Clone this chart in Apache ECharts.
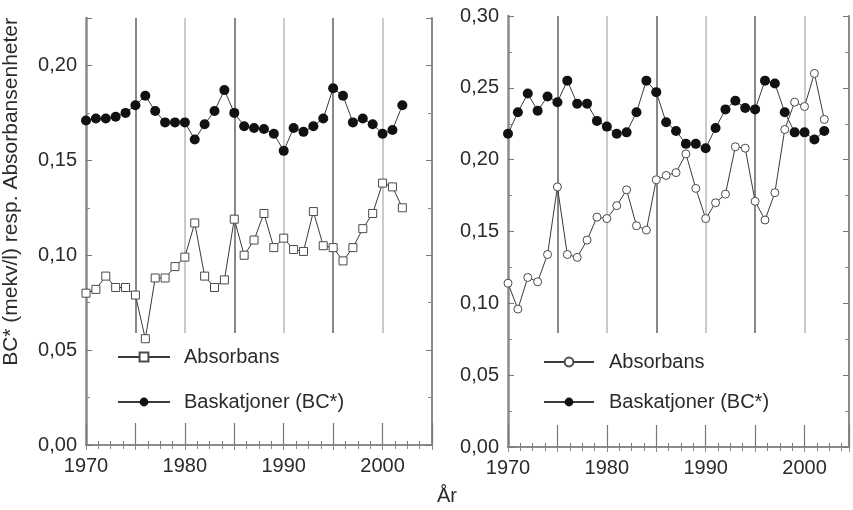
<!DOCTYPE html>
<html>
<head>
<meta charset="utf-8">
<script src="https://cdn.jsdelivr.net/npm/echarts@6/dist/echarts.min.js"></script>
<style>
  html, body { margin: 0; padding: 0; background: #fff; }
  #chart { width: 853px; height: 510px; }
</style>
</head>
<body>
<div id="chart"></div>
<script>
// --- data -------------------------------------------------------------------
const years = [1970, 1971, 1972, 1973, 1974, 1975, 1976, 1977, 1978, 1979,
  1980, 1981, 1982, 1983, 1984, 1985, 1986, 1987, 1988, 1989,
  1990, 1991, 1992, 1993, 1994, 1995, 1996, 1997, 1998, 1999,
  2000, 2001, 2002];

// left panel
const leftAbsorbans = [0.080, 0.082, 0.089, 0.083, 0.083, 0.079, 0.056, 0.088, 0.088, 0.094,
  0.099, 0.117, 0.089, 0.083, 0.087, 0.119, 0.100, 0.108, 0.122, 0.104,
  0.109, 0.103, 0.102, 0.123, 0.105, 0.104, 0.097, 0.104, 0.114, 0.122,
  0.138, 0.136, 0.125];
const leftBC = [0.171, 0.172, 0.172, 0.173, 0.175, 0.179, 0.184, 0.176, 0.170, 0.170,
  0.170, 0.161, 0.169, 0.176, 0.187, 0.175, 0.168, 0.167, 0.1665, 0.164,
  0.155, 0.167, 0.165, 0.168, 0.172, 0.188, 0.184, 0.170, 0.172, 0.169,
  0.164, 0.166, 0.179];

// right panel
const rightAbsorbans = [0.114, 0.096, 0.118, 0.115, 0.134, 0.181, 0.134, 0.132, 0.144, 0.160,
  0.159, 0.168, 0.179, 0.154, 0.151, 0.186, 0.189, 0.191, 0.204, 0.180,
  0.159, 0.170, 0.176, 0.209, 0.208, 0.171, 0.158, 0.177, 0.221, 0.240,
  0.237, 0.260, 0.228];
const rightBC = [0.218, 0.233, 0.246, 0.234, 0.244, 0.240, 0.255, 0.239, 0.239, 0.227,
  0.223, 0.218, 0.219, 0.233, 0.255, 0.247, 0.226, 0.220, 0.211, 0.211,
  0.208, 0.222, 0.235, 0.241, 0.236, 0.235, 0.255, 0.253, 0.233, 0.219,
  0.219, 0.214, 0.220];

const yearTicks = [1970, 1980, 1990, 2000];
const yTicks = [0, 0.05, 0.10, 0.15, 0.20, 0.25, 0.30];

// --- style -------------------------------------------------------------------
const FONT = "Liberation Sans";
const TEXT = "#2b2b2b";
const AXIS = "#8a8a8a";

const fmtYear = (v) => (yearTicks.includes(v) ? String(v) : "");
const fmtY = (v) => {
  const hit = yTicks.find((t) => Math.abs(t - v) < 1e-6);
  return hit === undefined ? "" : hit.toFixed(2).replace(".", ",");
};
const pairs = (vals) => vals.map((v, i) => [years[i], v]);

// one panel = main grid (frame, ticks, labels, data) + a shorter grid for the vertical lines
function panelAxes(g, gLines, xMax, yMax) {
  const x = [
    { gridIndex: g, type: "value", min: 1970, max: xMax, interval: 5, position: "bottom",
      axisLine: { lineStyle: { color: AXIS, width: 2 } },
      axisTick: { inside: true, length: 22, lineStyle: { color: "#777", width: 1.2 } },
      minorTick: { show: true, splitNumber: 4, length: 4, lineStyle: { color: "#777" } },
      axisLabel: { formatter: fmtYear, color: TEXT, fontFamily: FONT, fontSize: 20, margin: 11, showMaxLabel: false },
      splitLine: { show: false } },
    { gridIndex: g, type: "value", min: 1970, max: xMax, interval: 5, position: "top",
      axisLine: { lineStyle: { color: AXIS, width: 2 } },
      axisTick: { inside: true, length: 5, lineStyle: { color: "#888" } },
      minorTick: { show: true, splitNumber: 4, length: 4, lineStyle: { color: "#888" } },
      axisLabel: { show: false }, splitLine: { show: false } },
    { gridIndex: gLines, type: "value", min: 1970, max: xMax, interval: 5,
      axisLine: { show: false }, axisTick: { show: false }, axisLabel: { show: false },
      splitLine: { show: true, showMinLine: false, showMaxLine: false,
        lineStyle: { color: ["#606060", "#b8b8b8"], width: 1.5 } } },
  ];
  const y = [
    { gridIndex: g, type: "value", min: 0, max: yMax, interval: 0.05, position: "left",
      axisLine: { lineStyle: { color: AXIS, width: 2.5 } },
      axisTick: { inside: true, length: 6, lineStyle: { color: "#777" } },
      minorTick: { show: true, splitNumber: 2, length: 4, lineStyle: { color: "#888" } },
      axisLabel: { formatter: fmtY, color: TEXT, fontFamily: FONT, fontSize: 20, margin: 9 },
      splitLine: { show: false } },
    { gridIndex: g, type: "value", min: 0, max: yMax, interval: 0.05, position: "right",
      axisLine: { lineStyle: { color: AXIS, width: 2 } },
      axisTick: { inside: true, length: 6, lineStyle: { color: "#777" } },
      minorTick: { show: true, splitNumber: 2, length: 4, lineStyle: { color: "#888" } },
      axisLabel: { show: false }, splitLine: { show: false } },
    { gridIndex: gLines, type: "value", min: 0, max: 1, show: false },
  ];
  return { x, y };
}

const L = panelAxes(0, 1, 2005, 0.225);
const R = panelAxes(2, 3, 2004.5, 0.30);

function lineSeries(name, vals, xIdx, yIdx, symbol, size, filled) {
  return {
    name, type: "line", xAxisIndex: xIdx, yAxisIndex: yIdx,
    data: pairs(vals), symbol, symbolSize: size, showAllSymbol: true,
    lineStyle: { color: "#3a3a3a", width: 1 },
    itemStyle: filled
      ? { color: "#111", borderColor: "#111", borderWidth: 0 }
      : { color: "#fff", borderColor: "#4a4a4a", borderWidth: 1 },
    z: filled ? 4 : 3, animation: false,
  };
}

const legendText = { color: TEXT, fontFamily: FONT, fontSize: 20, lineHeight: 20 };

const chart = echarts.init(document.getElementById("chart"), null, { renderer: "canvas" });
chart.setOption({
  backgroundColor: "#fff",
  animation: false,
  grid: [
    { left: 86, top: 18, width: 346, height: 427 },
    { left: 86, top: 18, width: 346, height: 315 },
    { left: 508, top: 16, width: 341, height: 431 },
    { left: 508, top: 16, width: 341, height: 317 },
  ],
  xAxis: [...L.x, ...R.x],
  yAxis: [...L.y, ...R.y],
  legend: [
    { left: 112, top: 342, orient: "vertical", itemWidth: 52, itemHeight: 11, itemGap: 25,
      textStyle: { ...legendText, padding: [0, 0, 0, 9] },
      data: ["Absorbans", "Baskatjoner (BC*)"] },
    { left: 538, top: 347, orient: "vertical", itemWidth: 50, itemHeight: 11, itemGap: 20,
      textStyle: { ...legendText, padding: [0, 0, 0, 10] },
      data: ["Absorbans ", "Baskatjoner (BC*) "] },
  ],
  series: [
    lineSeries("Absorbans", leftAbsorbans, 0, 0, "rect", 8, false),
    lineSeries("Baskatjoner (BC*)", leftBC, 0, 0, "circle", 10, true),
    lineSeries("Absorbans ", rightAbsorbans, 3, 3, "circle", 8, false),
    lineSeries("Baskatjoner (BC*) ", rightBC, 3, 3, "circle", 10, true),
  ],
  graphic: [
    { type: "text", left: 1, top: 18, rotation: Math.PI / 2, originX: 0, originY: 0,
      style: { text: "BC* (mekv/l) resp. Absorbansenheter", fill: TEXT, font: `21px "${FONT}"`,
        letterSpacing: 0.6 },
      silent: true },
    { type: "text", left: 437, top: 486,
      style: { text: "År", fill: TEXT, font: `20px "${FONT}"` }, silent: true },
  ],
});
</script>
</body>
</html>
